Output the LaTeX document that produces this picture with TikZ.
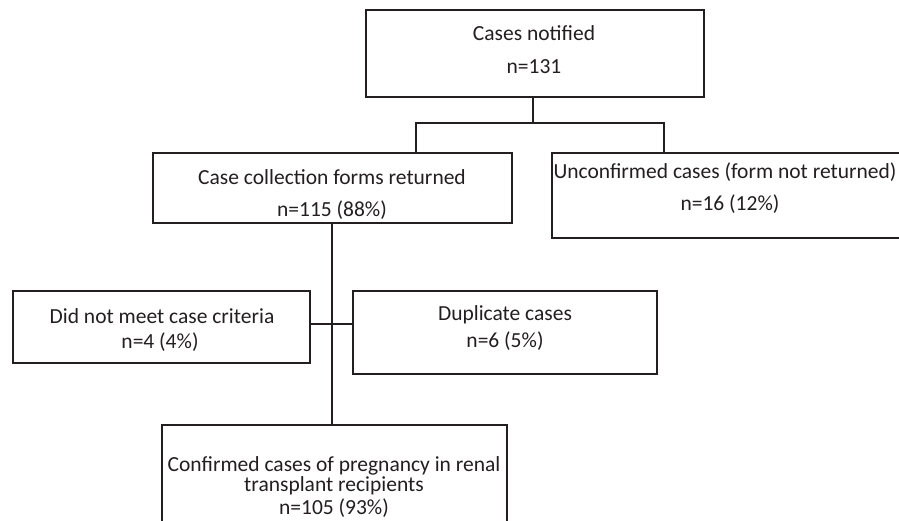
\documentclass[tikz,border=0pt]{standalone}
\usepackage{fontspec}
\setmainfont{Carlito}
\definecolor{ink}{HTML}{231F20}
\begin{document}
\begin{tikzpicture}[x=1pt,y=-1pt,
  box/.style={draw=ink,line width=2.2pt,rectangle,inner sep=0pt},
  txt/.style={inner sep=0pt,text=ink,font=\fontsize{21.5}{24}\selectfont,anchor=base},
  conn/.style={draw=ink,line width=1.5pt}]
\useasboundingbox (0,0) rectangle (899,521);
\fill[white] (0,0) rectangle (899,521);
\clip (0,0) rectangle (899,521);
% boxes
\node[box,minimum width=338pt,minimum height=87pt] (top) at (535,53.5) {};
\node[box,minimum width=359pt,minimum height=70pt] (ccf) at (332.5,188) {};
\node[box,minimum width=360pt,minimum height=85pt] (unc) at (732,195.5) {};
\node[box,minimum width=297pt,minimum height=72pt] (dnm) at (161.5,327) {};
\node[box,minimum width=304pt,minimum height=83pt] (dup) at (505,332.5) {};
\node[box,minimum width=345pt,minimum height=120pt] (conf) at (334.5,485) {};
% texts
\node[txt] (t1a) at (534,41) {Cases notified};
\node[txt] (t1b) at (534,74) {n=131};
\node[txt] (t2a) at (332,185) {Case collection forms returned};
\node[txt] (t2b) at (332,217) {n=115 (88\%)};
\node[txt] (t3a) at (725,179) {Unconfirmed cases (form not returned)};
\node[txt] (t3b) at (730,211) {n=16 (12\%)};
\node[txt] (t4a) at (162,323) {Did not meet case criteria};
\node[txt] (t4b) at (160,348) {n=4 (4\%)};
\node[txt] (t5a) at (505,320) {Duplicate cases};
\node[txt] (t5b) at (505,347) {n=6 (5\%)};
\node[txt,anchor=center,align=center,font=\fontsize{21.5}{18}\selectfont] (t6) at (334,487)
  {Confirmed cases of pregnancy in renal\\transplant recipients\\[3pt]n=105 (93\%)};
% connectors
\coordinate (split) at (533,123);
\coordinate (mid) at (332,324);
\draw[conn] (top.south -| split) -- (split);
\draw[conn] (ccf.north -| 416,0) -- (416,123) -- (664,123) -- (unc.north -| 664,0);
\draw[conn] (ccf.south -| mid) -- (conf.north -| mid);
\draw[conn] (dnm.east |- mid) -- (dup.west |- mid);
\end{tikzpicture}
\end{document}
